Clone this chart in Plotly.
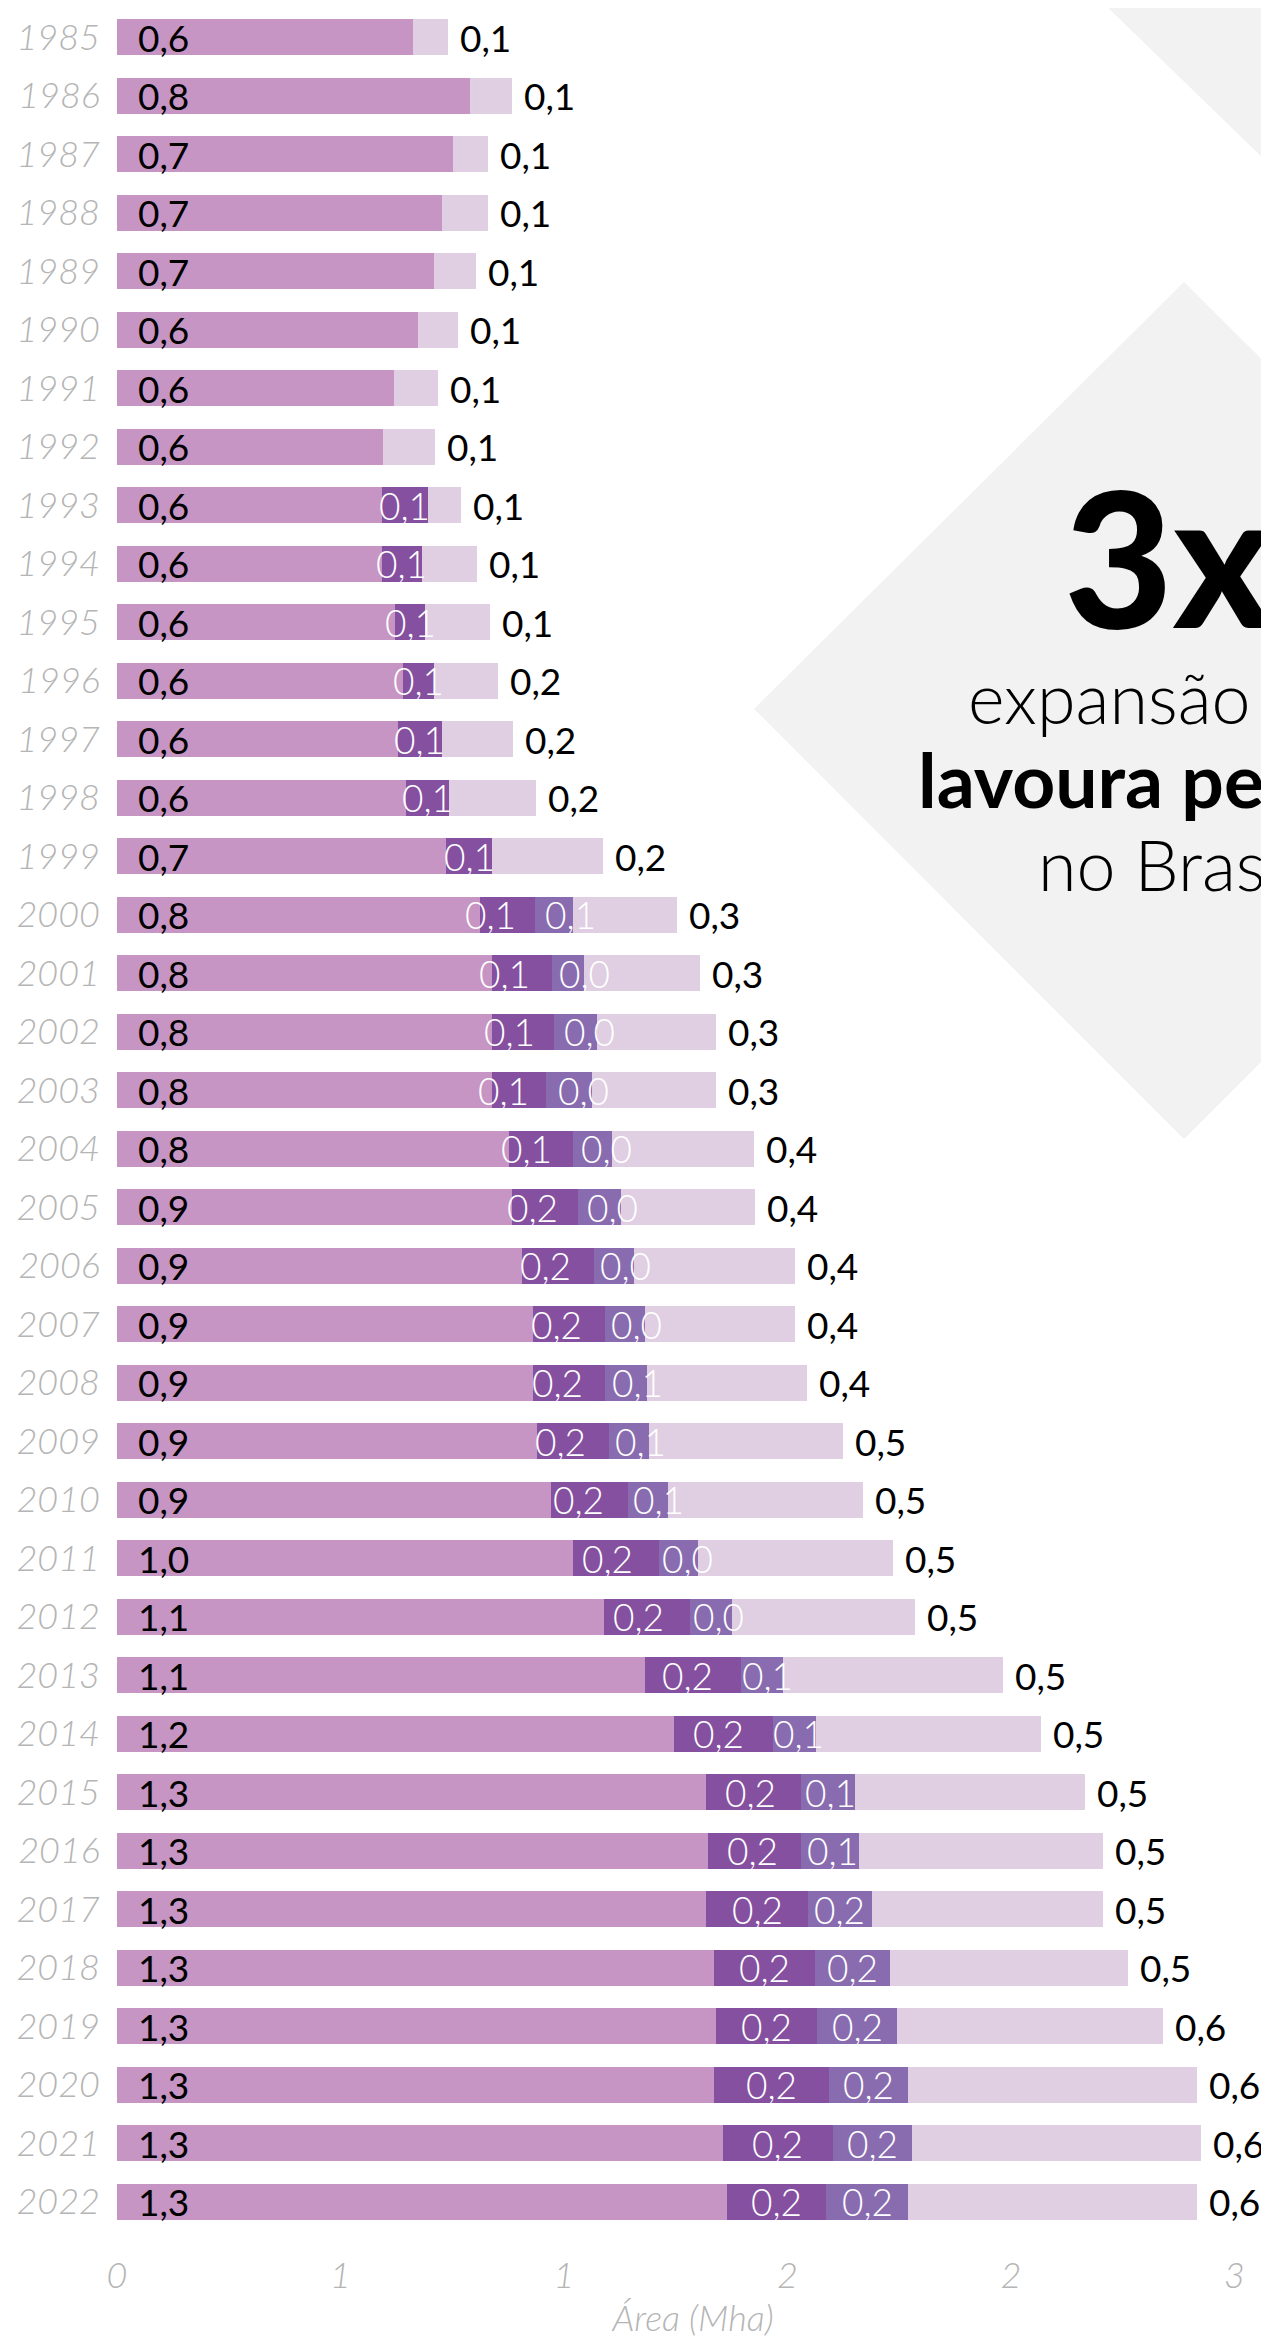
import plotly.graph_objects as go

# years on the vertical axis, top to bottom
years = [str(y) for y in range(1985, 2023)]

# segment widths (Mha)
base = [0.662, 0.789, 0.752, 0.726, 0.709, 0.673, 0.619, 0.596, 0.592, 0.592,
        0.623, 0.639, 0.628, 0.646, 0.736, 0.813, 0.839, 0.839, 0.839, 0.876,
        0.883, 0.906, 0.930, 0.930, 0.939, 0.970, 1.020, 1.089, 1.181, 1.246,
        1.318, 1.323, 1.318, 1.336, 1.340, 1.336, 1.356, 1.364]
dark = [0, 0, 0, 0, 0, 0, 0, 0, 0.103, 0.091,
        0.067, 0.070, 0.098, 0.096, 0.104, 0.121, 0.134, 0.139, 0.120, 0.144,
        0.149, 0.161, 0.161, 0.161, 0.161, 0.174, 0.193, 0.192, 0.215, 0.221,
        0.212, 0.207, 0.228, 0.225, 0.226, 0.257, 0.245, 0.222]
violet = [0, 0, 0, 0, 0, 0, 0, 0, 0, 0,
          0, 0, 0, 0, 0, 0.087, 0.071, 0.095, 0.103, 0.088,
          0.095, 0.089, 0.090, 0.095, 0.090, 0.089, 0.087, 0.094, 0.094, 0.097,
          0.122, 0.130, 0.142, 0.169, 0.179, 0.177, 0.177, 0.184]
light = [0.078, 0.094, 0.077, 0.103, 0.094, 0.089, 0.099, 0.115, 0.074, 0.122,
         0.144, 0.143, 0.161, 0.196, 0.247, 0.231, 0.261, 0.268, 0.279, 0.318,
         0.300, 0.361, 0.336, 0.358, 0.434, 0.435, 0.435, 0.410, 0.492, 0.502,
         0.514, 0.546, 0.517, 0.532, 0.595, 0.646, 0.648, 0.646]

# labels exactly as printed on the chart
base_lbl = ["0,6", "0,8", "0,7", "0,7", "0,7", "0,6", "0,6", "0,6", "0,6", "0,6",
            "0,6", "0,6", "0,6", "0,6", "0,7", "0,8", "0,8", "0,8", "0,8", "0,8",
            "0,9", "0,9", "0,9", "0,9", "0,9", "0,9", "1,0", "1,1", "1,1", "1,2",
            "1,3", "1,3", "1,3", "1,3", "1,3", "1,3", "1,3", "1,3"]
dark_lbl = ["", "", "", "", "", "", "", "", "0,1", "0,1",
            "0,1", "0,1", "0,1", "0,1", "0,1", "0,1", "0,1", "0,1", "0,1", "0,1",
            "0,2", "0,2", "0,2", "0,2", "0,2", "0,2", "0,2", "0,2", "0,2", "0,2",
            "0,2", "0,2", "0,2", "0,2", "0,2", "0,2", "0,2", "0,2"]
violet_lbl = ["", "", "", "", "", "", "", "", "", "",
              "", "", "", "", "", "0,1", "0,0", "0,0", "0,0", "0,0",
              "0,0", "0,0", "0,0", "0,1", "0,1", "0,1", "0,0", "0,0", "0,1", "0,1",
              "0,1", "0,1", "0,2", "0,2", "0,2", "0,2", "0,2", "0,2"]
light_lbl = ["0,1"] * 11 + ["0,2"] * 4 + ["0,3"] * 4 + ["0,4"] * 5 + ["0,5"] * 10 + ["0,6"] * 4

tick_vals = [0, 0.5, 1, 1.5, 2, 2.5]
tick_text = ["0", "1", "1", "2", "2", "3"]

C_BASE = "#C795C4"
C_DARK = "#8650A0"
C_VIOLET = "#896CAF"
C_LIGHT = "#E0CEE2"
GREY = "#B5B5B5"
FONT = "Lato"

# page is drawn with an 8px body margin, so the figure is 8px smaller
W, H = 1261, 2334
L, R, T, B = 117, 1269, 8, 2231   # plot area in page pixels
PX_PER_UNIT = 447


def px(x):
    return (x - L) / (R - L)


def py(y):
    return (B - y) / (B - T)


fig = go.Figure()
for vals, col in [(base, C_BASE), (dark, C_DARK), (violet, C_VIOLET), (light, C_LIGHT)]:
    fig.add_trace(go.Bar(
        y=years, x=vals, orientation="h",
        marker=dict(color=col, line=dict(width=0)),
        showlegend=False, hoverinfo="x+y",
    ))

lbl_font = dict(family=FONT, size=37, weight=400)
in_font = dict(family=FONT, size=37, weight=300)

# value labels (category axis: position by row index)
for i in range(len(years)):
    fig.add_annotation(x=0, y=i, text=base_lbl[i], xanchor="left", xshift=19,
                       showarrow=False, font=dict(lbl_font, color="black"))
    dc = base[i] + dark[i] / 2
    vc = base[i] + dark[i] + violet[i] / 2
    push = 0
    if dark_lbl[i] and violet_lbl[i]:
        gap = (vc - dc) * PX_PER_UNIT
        push = max(0, (80 - gap) / 2)
    if dark_lbl[i]:
        fig.add_annotation(x=dc, y=i, text=dark_lbl[i], xanchor="center", xshift=-push,
                           showarrow=False, font=dict(in_font, color="white"))
    if violet_lbl[i]:
        fig.add_annotation(x=vc, y=i, text=violet_lbl[i], xanchor="center", xshift=push,
                           showarrow=False, font=dict(in_font, color="white"))
    total = base[i] + dark[i] + violet[i] + light[i]
    fig.add_annotation(x=total, y=i, text=light_lbl[i], xanchor="left", xshift=10,
                       showarrow=False, font=dict(lbl_font, color="black"))

# grey diamonds behind the callout
diamond = [(754, 709), (1184, 282), (1614, 709), (1184, 1139)]
corner = [(1100, 0), (1269, 164), (1269, 0)]
for pts in (diamond, corner):
    path = "M " + " L ".join(f"{px(x):.4f},{py(y):.4f}" for x, y in pts) + " Z"
    fig.add_shape(type="path", path=path, xref="paper", yref="paper",
                  fillcolor="#F2F2F2", line=dict(width=0), layer="below")

# callout text (runs off the right edge, as in the original)
callout = [
    ("3x", 1062, 555, 188, 900),
    ("expansão da", 966, 697, 70, 300),
    ("lavoura permanente", 916, 779, 75, 700),
    ("no Brasil", 1036, 864, 70, 300),
]
for txt, x, y, size, wt in callout:
    fig.add_annotation(x=px(x), y=py(y), xref="paper", yref="paper", text=txt,
                       xanchor="left", yanchor="middle", showarrow=False,
                       font=dict(family=FONT, size=size, color="black", weight=wt))

fig.update_layout(
    width=W, height=H,
    barmode="stack", bargap=0.385,
    margin=dict(l=L - 8, r=0, t=T - 8, b=H - (B - 8)),
    plot_bgcolor="white", paper_bgcolor="white",
    xaxis=dict(
        range=[0, (R - L) / PX_PER_UNIT], tickvals=tick_vals, ticktext=tick_text,
        showgrid=False, zeroline=False, showline=False, ticks="",
        ticklabelstandoff=20,
        tickfont=dict(family=FONT, size=36, color=GREY, style="italic", weight=300),
        title=dict(text="Área (Mha)", standoff=10,
                   font=dict(family=FONT, size=36, color=GREY, style="italic", weight=300)),
    ),
    yaxis=dict(
        type="category", categoryorder="array", categoryarray=years,
        range=[len(years) - 0.5, -0.5], showgrid=False, zeroline=False,
        showline=False, ticks="", ticklabelstandoff=16,
        tickfont=dict(family=FONT, size=36, color=GREY, style="italic", weight=300),
    ),
)

fig.write_html("out.html")
